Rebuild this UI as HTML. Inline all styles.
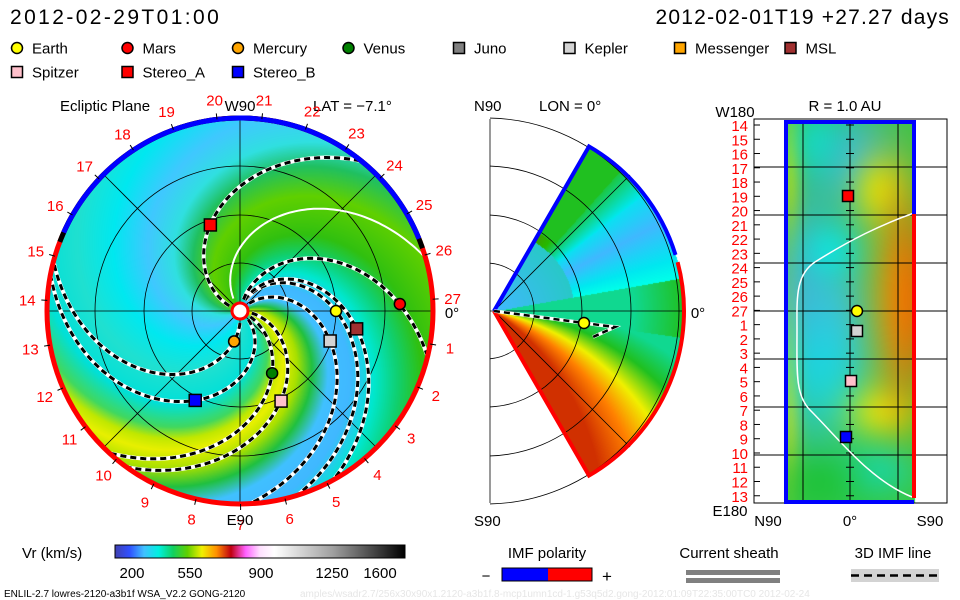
<!DOCTYPE html>
<html><head><meta charset="utf-8"><style>
html,body{margin:0;padding:0;background:#fff;width:960px;height:600px;overflow:hidden}
#bg{position:absolute;left:0;top:0}
#ov{position:absolute;left:0;top:0}
text{font-family:"Liberation Sans",sans-serif}
</style></head><body>
<canvas id="bg" width="960" height="600"></canvas>
<svg id="ov" width="960" height="600" xmlns="http://www.w3.org/2000/svg">
<defs>
<linearGradient id="cb" x1="0" x2="1" y1="0" y2="0">
<stop offset="0" stop-color="#4040b0"/><stop offset="0.05" stop-color="#3050ff"/><stop offset="0.1" stop-color="#40c0ff"/><stop offset="0.15" stop-color="#00f0e0"/><stop offset="0.2" stop-color="#10d060"/><stop offset="0.25" stop-color="#60d000"/><stop offset="0.3" stop-color="#f0f000"/><stop offset="0.35" stop-color="#ff9000"/><stop offset="0.4" stop-color="#c00010"/><stop offset="0.45" stop-color="#ff60ff"/><stop offset="0.5" stop-color="#ffe0ff"/><stop offset="0.55" stop-color="#ffffff"/><stop offset="0.75" stop-color="#a0a0a0"/><stop offset="1" stop-color="#000000"/>
</linearGradient>
</defs>
<g id="g"></g>
</svg>
<script>
// ---- data ----
const psiStops=[0,15,30,45,65,85,105,125,160,185,205,230,260,290,320,340,350,360];
const psiColors=['#e8f000','#a8e000','#20c040','#40c0ff','#40b8ff','#00e8d0','#10d070','#30c010','#60d000','#20c060','#30e0e0','#40c8ff','#00e8f0','#20e0d0','#00e0d8','#40d860','#c0e800','#e8f000'];
const dayLabels=[1,2,3,4,5,6,7,8,9,10,11,12,13,14,15,16,17,18,19,20,21,22,23,24,25,26,27];
const rightLabels=[14,15,16,17,18,19,20,21,22,23,24,25,26,27,1,2,3,4,5,6,7,8,9,10,11,12,13];
const spiralPsi=[72,48,74,79,161,-2.5,-22.7,-36.6,-83];
const spiralK=[0.75,0.7,0.7,0.48,0.57,0.64,0.57,0.8,0.58];
const bodyNames=['Earth','Mars','Mercury','Venus','Stereo_A','Stereo_B','Kepler','MSL','Spitzer'];
const bodyR=[96,160,31,70,91,100,95,118,99];
const bodyPhi=[0,2.5,-101,-62.7,109,-116.6,-18.4,-8.7,-65.5];
const bodyFill=['#ffff00','#ff0000','#ffa500','#008000','#ff0000','#0000ff','#d3d3d3','#a03030','#ffc0cb'];
const bodyShape=['c','c','c','c','s','s','s','s','s'];
const legendNames=['Earth','Mars','Mercury','Venus','Juno','Kepler','Messenger','MSL','Spitzer','Stereo_A','Stereo_B'];
const legendFill=['#ffff00','#ff0000','#ffa500','#008000','#808080','#d3d3d3','#ffa500','#a03030','#ffc0cb','#ff0000','#0000ff'];
const legendShape=['c','c','c','c','s','s','s','s','s','s','s'];
const cbTicks=['200','550','900','1250','1600'];
const cbTickX=[132,190,261,332,380];

const cx=240,cy=311,R=193;
const NS='http://www.w3.org/2000/svg';
const G=document.getElementById('g');
function el(tag,attrs,parent){const e=document.createElementNS(NS,tag);for(const k in attrs)e.setAttribute(k,attrs[k]);(parent||G).appendChild(e);return e;}
function txt(s,x,y,size,fill,anchor,name,ls){const t=el('text',{x:x,y:y,'font-size':size,fill:fill||'#000','text-anchor':anchor||'start'});if(ls)t.setAttribute('letter-spacing',ls);t.textContent=s;


return t;}
function hex(h){return [parseInt(h.substr(1,2),16),parseInt(h.substr(3,2),16),parseInt(h.substr(5,2),16)];}
const pc=psiColors.map(hex);
function psiColor(p){p=((p%360)+360)%360;for(let i=0;i<psiStops.length-1;i++){if(p<=psiStops[i+1]){const t=(p-psiStops[i])/(psiStops[i+1]-psiStops[i]);const a=pc[i],b=pc[i+1];return [a[0]+(b[0]-a[0])*t,a[1]+(b[1]-a[1])*t,a[2]+(b[2]-a[2])*t];}}return pc[0];}

// ---- canvas ----
const cv=document.getElementById('bg');const ctx=cv.getContext('2d');
const img=ctx.createImageData(960,600);const D=img.data;
function put(x,y,c){const i=(y*960+x)*4;D[i]=c[0];D[i+1]=c[1];D[i+2]=c[2];D[i+3]=255;}
function mix(a,b,t){return [a[0]+(b[0]-a[0])*t,a[1]+(b[1]-a[1])*t,a[2]+(b[2]-a[2])*t];}
for(let y=cy-R;y<=cy+R;y++)for(let x=cx-R;x<=cx+R;x++){const dx=x-cx,dy=cy-y,r=Math.hypot(dx,dy);if(r>R)continue;const ph=Math.atan2(dy,dx)*180/Math.PI;put(x,y,psiColor(ph+0.75*r));}
const mx=494,my=311;
const RED=hex('#d03000'),ORG=hex('#ff8000'),YEL=hex('#f0f000'),GRN=hex('#20c020'),TEA=hex('#10d890'),CYA=hex('#00e8f0'),LBL=hex('#40b8ff');
for(let y=118;y<=505;y++)for(let x=mx;x<=mx+192;x++){const dx=x-mx,dy=my-y,r=Math.hypot(dx,dy);if(r>190||r<2)continue;const th=Math.atan2(dy,dx)*180/Math.PI;if(Math.abs(th)>60)continue;let c;
if(th<-8){const s=-th+(r-100)*-0.12;if(s<14)c=mix(TEA,GRN,Math.max(0,(s-4)/10));else if(s<24)c=mix(GRN,YEL,(s-14)/10);else if(s<34)c=mix(YEL,ORG,(s-24)/10);else c=mix(ORG,RED,Math.min(1,(s-34)/12));}
else if(th<10){c=r>140?mix(TEA,GRN,(r-140)/50):TEA;}
else{if(th>48&&r>90)c=GRN;else if(r<80)c=mix(LBL,TEA,r/80*0.5);else if(th<38)c=mix(LBL,CYA,Math.abs(th-28)/12);else c=mix(CYA,GRN,(th-38)/12);}
put(x,y,c);}
const RB=[[800,300,25,90,'#50a0ff',0.6],[835,330,30,70,'#40c0ff',0.7],[855,160,30,40,'#40b0ff',0.7],[880,190,20,25,'#e0f000',0.8],[880,410,25,20,'#f0f000',0.8],[905,300,15,60,'#e03000',0.85],[895,300,25,90,'#ffa000',0.6],[790,400,8,60,'#f0e000',0.6],[790,170,8,50,'#d0e000',0.6],[830,250,20,20,'#00f0f0',0.6],[820,370,30,40,'#00e8f0',0.5],[880,470,25,20,'#00e0e0',0.5],[820,480,25,20,'#10c020',0.5],[815,140,20,25,'#00e8f0',0.5]];
const baseR=hex('#30c840');
const rbc=RB.map(b=>hex(b[4]));
for(let y=122;y<=502;y++)for(let x=785;x<=914;x++){let c=baseR;for(let i=0;i<RB.length;i++){const b=RB[i];const w=Math.exp(-(((x-b[0])/b[2])**2+((y-b[1])/b[3])**2)/2)*b[5];c=mix(c,rbc[i],w);}put(x,y,c);}
ctx.putImageData(img,0,0);

// ---- svg overlay ----
txt('2012-02-29T01:00',10,24,21,'#000','start','date-title','2.4');
txt('2012-02-01T19 +27.27 days',950,24,21,'#000','end','run-title','1.2');
for(let i=0;i<legendNames.length;i++){const row=i<8?0:1;const col=i<8?i:i-8;const x=17+col*110.5,y=row?72:48;let m;
if(legendShape[i]=='c')m=el('circle',{cx:x,cy:y,r:5.5,fill:legendFill[i],stroke:'#000','stroke-width':1.5});else m=el('rect',{x:x-5.5,y:y-5.5,width:11,height:11,fill:legendFill[i],stroke:'#000','stroke-width':1.5});


txt(legendNames[i],x+15,y+5.5,15,'#000','start','legend-label-'+legendNames[i].toLowerCase());}

txt('Ecliptic Plane',60,111,15,'#000','start','ecliptic-title');
txt('LAT = \u22127.1\u00b0',313,111,15,'#000','start','lat-label');
const grid=el('g',{stroke:'#000','stroke-width':0.8,fill:'none'});


[48,96,145].forEach(r=>el('circle',{cx:cx,cy:cy,r:r},grid));
el('line',{x1:cx-R,y1:cy,x2:cx+R,y2:cy},grid);el('line',{x1:cx,y1:cy-R,x2:cx,y2:cy+R},grid);
const d45=R*Math.SQRT1_2;el('line',{x1:cx-d45,y1:cy-d45,x2:cx+d45,y2:cy+d45},grid);el('line',{x1:cx-d45,y1:cy+d45,x2:cx+d45,y2:cy-d45},grid);
function P(r,ph){const a=ph*Math.PI/180;return [cx+r*Math.cos(a),cy-r*Math.sin(a)];}
(function(){let d='';for(let r=14;r<=R;r+=2){const p=P(r,126-0.57*r);d+=(r==14?'M':'L')+p[0].toFixed(1)+','+p[1].toFixed(1);}
const s=el('path',{d:d,stroke:'#fff','stroke-width':2,fill:'none'});

})();
for(let j=0;j<spiralPsi.length;j++){let d='';for(let r=12;r<=R-1;r+=2){const p=P(r,spiralPsi[j]-spiralK[j]*r);d+=(r==12?'M':'L')+p[0].toFixed(1)+','+p[1].toFixed(1);}
const w=el('path',{d:d,stroke:'#fff','stroke-width':4,fill:'none'});


const b=el('path',{d:d,stroke:'#000','stroke-width':3,fill:'none','stroke-dasharray':'6 4'});

}
const ring=el('circle',{cx:cx,cy:cy,r:R,fill:'none',stroke:'#ff0000','stroke-width':5});


(function(){const a=P(R,159),b=P(R,19);const arc=el('path',{d:`M${a[0]},${a[1]} A${R},${R} 0 0 1 ${b[0]},${b[1]}`,stroke:'#000','stroke-width':5,fill:'none'});


const a2=P(R,156),b2=P(R,22);const arc2=el('path',{d:`M${a2[0]},${a2[1]} A${R},${R} 0 0 1 ${b2[0]},${b2[1]}`,stroke:'#0000ff','stroke-width':5,fill:'none'});

})();
for(let i=0;i<dayLabels.length;i++){const ph=3.5-dayLabels[i]*13.333;const p=P(213,ph);const t1=P(R,ph),t2=P(R+6,ph);
const tk=el('line',{x1:t1[0],y1:t1[1],x2:t2[0],y2:t2[1],stroke:'#000','stroke-width':1});


txt(String(dayLabels[i]),p[0],p[1]+6,15,'#ff0000','middle','day-label-'+dayLabels[i]);}
txt('W90',240,111,15,'#000','middle','w90-label');
txt('E90',240,525,15,'#000','middle','e90-label');
txt('0\u00b0',452,318,15,'#000','middle','zero-label');
const sun=el('circle',{cx:cx,cy:cy,r:8,fill:'#fff',stroke:'#ff0000','stroke-width':3});


for(let i=0;i<bodyNames.length;i++){const p=P(bodyR[i],bodyPhi[i]);let m;
if(bodyShape[i]=='c')m=el('circle',{cx:p[0],cy:p[1],r:5.5,fill:bodyFill[i],stroke:'#000','stroke-width':1.5});else m=el('rect',{x:p[0]-6,y:p[1]-6,width:12,height:12,fill:bodyFill[i],stroke:'#000','stroke-width':1.5});

}

txt('N90',474,111,15,'#000','start','n90-label');
txt('LON = 0\u00b0',539,111,15,'#000','start','lon-label');
txt('S90',474,526,15,'#000','start','s90-label');
txt('0\u00b0',698,318,15,'#000','middle','mer-zero-label');
const mg=el('g',{stroke:'#000','stroke-width':0.8,fill:'none'});


el('line',{x1:490,y1:119,x2:490,y2:503},mg);
[48,96,145,193].forEach(r=>{const h=Math.sqrt(r*r-16);el('path',{d:`M490,${my-h} A${r},${r} 0 0 1 490,${my+h}`},mg);});
el('line',{x1:490,y1:my,x2:mx+190,y2:my},mg);
el('line',{x1:mx,y1:my,x2:mx+136,y2:my-136},mg);el('line',{x1:mx,y1:my,x2:mx+136,y2:my+136},mg);
(function(){const s60=Math.sin(Math.PI/3),c60=0.5,r=190;
const blue=el('path',{d:`M${mx},${my} L${mx+r*c60},${my-r*s60} A${r},${r} 0 0 1 ${mx+r*Math.cos(0.3)},${my-r*Math.sin(0.3)}`,stroke:'#0000ff','stroke-width':4,fill:'none'});


const red=el('path',{d:`M${mx+r*Math.cos(0.26)},${my-r*Math.sin(0.26)} A${r},${r} 0 0 1 ${mx+r*c60},${my+r*s60} L${mx},${my}`,stroke:'#ff0000','stroke-width':4,fill:'none'});

})();
(function(){const d=`M${mx},${my} L584,323 L615,327 L593,337`;
const w=el('path',{d:d,stroke:'#fff','stroke-width':3.5,fill:'none'});


const b=el('path',{d:d,stroke:'#000','stroke-width':2.5,fill:'none','stroke-dasharray':'6 4'});


const e=el('circle',{cx:584,cy:323,r:5.5,fill:'#ffff00',stroke:'#000','stroke-width':1.5});

})();

txt('W180',735,117,15,'#000','middle','w180-label');
txt('R = 1.0 AU',845,111,15,'#000','middle','r-label');
txt('E180',730,516,15,'#000','middle','e180-label');
txt('N90',768,526,15,'#000','middle','rn90-label');
txt('0\u00b0',850,526,15,'#000','middle','r0-label');
txt('S90',930,526,15,'#000','middle','rs90-label');
const rg=el('g',{stroke:'#000','stroke-width':1,fill:'none'});


el('rect',{x:754,y:119,width:193,height:384},rg);
[167,215,263,311,359,407,455].forEach(y=>el('line',{x1:754,y1:y,x2:947,y2:y},rg));
[803,850,898].forEach(x=>el('line',{x1:x,y1:122,x2:x,y2:502},rg));
for(let i=0;i<rightLabels.length;i++){const y=125+i*14.26;el('line',{x1:754,y1:y,x2:760,y2:y},rg);el('line',{x1:846,y1:y,x2:854,y2:y},rg);
txt(String(rightLabels[i]),748,y+6,15,'#ff0000','end','lon-label-'+rightLabels[i]);}
(function(){const ws=el('path',{d:'M914,213 C880,225 850,240 815,262 C795,275 797,300 797,330 C797,370 795,395 810,410 C840,440 870,480 912,497',stroke:'#fff','stroke-width':1.5,fill:'none'});


const bl=el('path',{d:'M914,214 L914,122 L786,122 L786,502 L914,502',stroke:'#0000ff','stroke-width':4,fill:'none'});


const rd=el('line',{x1:914,y1:214,x2:914,y2:498,stroke:'#ff0000','stroke-width':4});

})();
const rBodies=[['stereo_a',848,196,'#ff0000','s'],['earth',857,311,'#ffff00','c'],['kepler',857,331,'#d3d3d3','s'],['spitzer',851,381,'#ffc0cb','s'],['stereo_b',846,437,'#0000ff','s']];
rBodies.forEach(b=>{let m;if(b[4]=='c')m=el('circle',{cx:b[1],cy:b[2],r:5.5,fill:b[3],stroke:'#000','stroke-width':1.5});else m=el('rect',{x:b[1]-5.5,y:b[2]-5.5,width:11,height:11,fill:b[3],stroke:'#000','stroke-width':1.5});

});

txt('Vr (km/s)',22,558,15,'#000','start','colorbar-title');
const cbr=el('rect',{x:115,y:545,width:290,height:13,fill:'url(#cb)',stroke:'#000','stroke-width':1});


for(let i=0;i<cbTicks.length;i++)txt(cbTicks[i],cbTickX[i],578,15,'#000','middle','colorbar-tick-'+cbTicks[i]);
txt('IMF polarity',547,558,15,'#000','middle','imf-polarity-title');
const pb=el('rect',{x:502,y:568,width:46,height:13,fill:'#0000ff'});


const pr=el('rect',{x:548,y:568,width:44,height:13,fill:'#ff0000'});


const po=el('rect',{x:502,y:568,width:90,height:13,fill:'none',stroke:'#000','stroke-width':1});


txt('\u2212',486,581,15,'#000','middle','minus-sign');
txt('+',607,582,17,'#000','middle','plus-sign');
txt('Current sheath',729,558,15,'#000','middle','current-sheath-title');
const cs1=el('rect',{x:686,y:570,width:94,height:5,fill:'#808080'});


const cs2=el('rect',{x:686,y:578,width:94,height:5,fill:'#808080'});


txt('3D IMF line',893,558,15,'#000','middle','imf-line-title');
const il=el('rect',{x:851,y:569,width:88,height:13,fill:'#d3d3d3'});


const id=el('line',{x1:851,y1:575.5,x2:939,y2:575.5,stroke:'#000','stroke-width':2.5,'stroke-dasharray':'8 5'});


txt('ENLIL-2.7 lowres-2120-a3b1f WSA_V2.2 GONG-2120',4,597,10,'#000','start','run-info');
txt('amples/wsadr2.7/256x30x90x1.2120-a3b1f.8-mcp1umn1cd-1.g53q5d2.gong-2012:01:09T22:35:00TC0     2012-02-24',300,597,10,'#e6e6e6','start','run-path');
</script>
</body></html>
